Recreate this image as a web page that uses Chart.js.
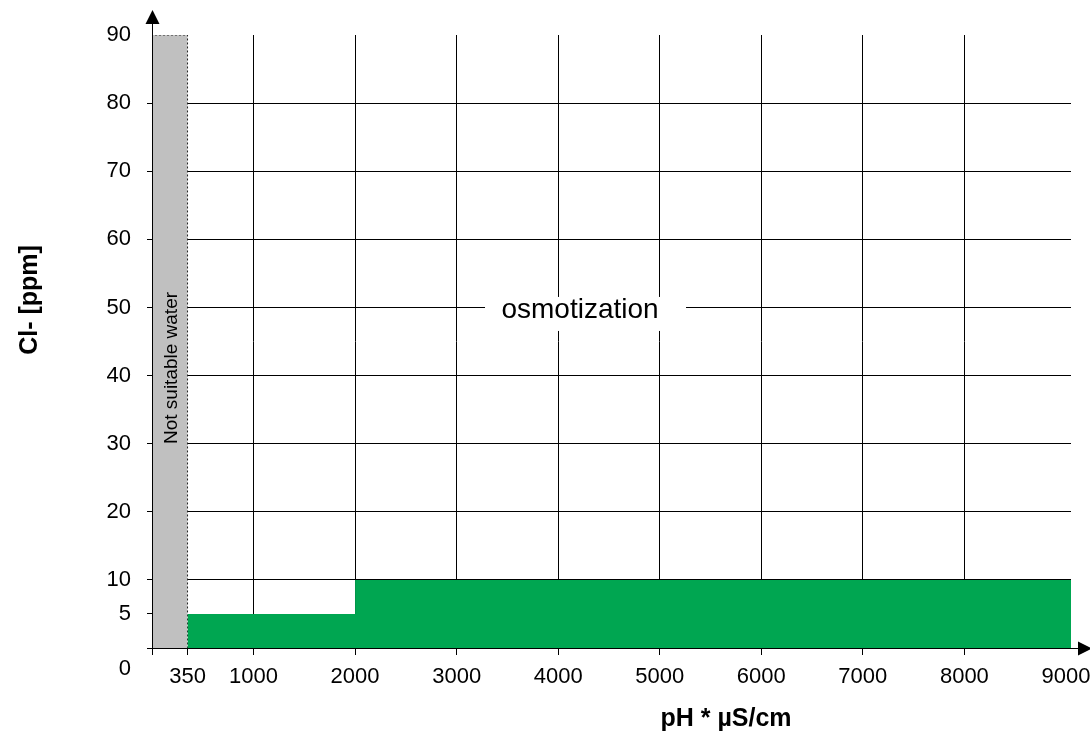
<!DOCTYPE html>
<html>
<head>
<meta charset="utf-8">
<script src="https://cdn.jsdelivr.net/npm/chart.js@4.4.1/dist/chart.umd.min.js"></script>
<style>
html,body{margin:0;padding:0;background:#ffffff;}
#wrap{width:1090px;height:731px;position:relative;}
canvas{display:block;}
</style>
</head>
<body>
<div id="wrap"><canvas id="c" width="1090" height="731"></canvas></div>
<script>
// ---- data ----
const xTickValues = [0, 350, 1000, 2000, 3000, 4000, 5000, 6000, 7000, 8000, 9000];
const xGridValues = [1000, 2000, 3000, 4000, 5000, 6000, 7000, 8000];
const yTickValues = [0, 5, 10, 20, 30, 40, 50, 60, 70, 80, 90];
const yGridValues = [10, 20, 30, 40, 50, 60, 70, 80];
const xMin = 0, xMax = 9050;
const yMin = 0, yMax = 90;

// "Not suitable water" zone (conductivity below 350)
const unsuitableX = [0, 0, 350, 350];
const unsuitableY = [0, 90, 90, 0];

// green zone: Cl- limit vs pH*µS/cm (step)
const greenX = [350, 2000, 9050];
const greenY = [5, 10, 10];

const unsuitableLabel = "Not suitable water";
const zoneLabel = "osmotization";
const zoneLabelX = 4215, zoneLabelY = 50;
const xTitle = "pH * µS/cm";
const yTitle = "Cl- [ppm]";

const FONT = "'Liberation Sans', Arial, Helvetica, sans-serif";
const CLEAR = 'rgba(0,0,0,0)';

const toPts = (xs, ys) => xs.map((x, i) => ({x: x, y: ys[i]}));

const deco = {
  id: 'deco',
  afterDatasetsDraw(chart) {
    const ctx = chart.ctx;
    const xs = chart.scales.x, ys = chart.scales.y;
    // osmotization label with white background
    const ax = xs.getPixelForValue(zoneLabelX);
    const ay = ys.getPixelForValue(zoneLabelY);
    ctx.save();
    ctx.fillStyle = '#ffffff';
    ctx.fillRect(ax - 95, ay - 10.5, 201, 34);
    ctx.fillStyle = '#000000';
    ctx.font = '28px ' + FONT;
    ctx.textAlign = 'center';
    ctx.textBaseline = 'alphabetic';
    ctx.fillText(zoneLabel, ax, ay + 11);
    ctx.restore();

    // Not suitable water (rotated)
    const gx = (xs.getPixelForValue(unsuitableX[0]) + xs.getPixelForValue(unsuitableX[2])) / 2;
    ctx.save();
    ctx.translate(gx + 7, 368);
    ctx.rotate(-Math.PI / 2);
    ctx.fillStyle = '#000000';
    ctx.font = '19px ' + FONT;
    ctx.textAlign = 'center';
    ctx.textBaseline = 'alphabetic';
    ctx.fillText(unsuitableLabel, 0, 0);
    ctx.restore();
  },
  afterDraw(chart) {
    const ctx = chart.ctx;
    const a = chart.chartArea;
    const ax = Math.round(a.left) + 0.5;
    const ay = Math.round(a.bottom) + 0.5;
    ctx.save();
    ctx.strokeStyle = '#000';
    ctx.lineWidth = 1;
    ctx.beginPath();
    ctx.moveTo(ax, a.top);
    ctx.lineTo(ax, 22);
    ctx.moveTo(a.right, ay);
    ctx.lineTo(1080, ay);
    ctx.stroke();
    ctx.fillStyle = '#000';
    ctx.beginPath();
    ctx.moveTo(ax, 10);
    ctx.lineTo(ax - 7, 24);
    ctx.lineTo(ax + 7, 24);
    ctx.closePath();
    ctx.fill();
    ctx.beginPath();
    ctx.moveTo(1092, ay);
    ctx.lineTo(1078, ay - 7);
    ctx.lineTo(1078, ay + 7);
    ctx.closePath();
    ctx.fill();

    // axis titles
    ctx.font = 'bold 25px ' + FONT;
    ctx.textAlign = 'center';
    ctx.textBaseline = 'middle';
    ctx.fillText(xTitle, 726, 719);
    ctx.translate(30, 300);
    ctx.rotate(-Math.PI / 2);
    ctx.font = 'bold 25px ' + FONT;
    ctx.fillText(yTitle, 0, 0);
    ctx.restore();
  }
};

new Chart(document.getElementById('c'), {
  type: 'line',
  data: {
    datasets: [
      {
        label: 'unsuitable',
        data: toPts(unsuitableX, unsuitableY),
        fill: 'origin',
        backgroundColor: '#c0c0c0',
        borderColor: '#222222',
        borderWidth: 1,
        borderDash: [2, 2],
        pointRadius: 0,
        tension: 0,
        order: 2
      },
      {
        label: 'green',
        data: toPts(greenX, greenY),
        stepped: 'before',
        fill: 'origin',
        backgroundColor: '#00a651',
        borderColor: CLEAR,
        borderWidth: 0,
        pointRadius: 0,
        order: 1
      }
    ]
  },
  options: {
    responsive: false,
    animation: false,
    events: [],
    layout: {padding: {left: 0, right: 19, top: 35, bottom: 0}},
    plugins: {legend: {display: false}, tooltip: {enabled: false}, title: {display: false}},
    scales: {
      x: {
        type: 'linear',
        position: 'bottom',
        min: xMin,
        max: xMax,
        afterBuildTicks: s => { s.ticks = xTickValues.map(v => ({value: v})); },
        afterFit: s => { s.height = 83; s.paddingLeft = 0; s.paddingRight = 0; },
        ticks: {
          autoSkip: false,
          maxRotation: 0,
          minRotation: 0,
          padding: 9,
          color: '#000',
          font: {family: FONT, size: 22},
          callback: v => (v === 0 ? '' : String(v))
        },
        grid: {
          color: c => (c.tick && xGridValues.includes(c.tick.value)) ? '#000' : CLEAR,
          tickColor: c => (c.tick && c.tick.value !== 9000) ? '#000' : CLEAR,
          tickLength: 7,
          lineWidth: 1
        },
        border: {display: true, color: '#000', width: 1, z: 1}
      },
      y: {
        type: 'linear',
        min: yMin,
        max: yMax,
        afterBuildTicks: s => { s.ticks = yTickValues.map(v => ({value: v})); },
        afterFit: s => { s.width = 152; s.paddingTop = 0; s.paddingBottom = 0; },
        ticks: {
          autoSkip: false,
          padding: 16,
          color: '#000',
          font: {family: FONT, size: 22, lineHeight: 1.9},
          callback: v => (v === 0 ? ['', '0'] : String(v))
        },
        grid: {
          color: c => (c.tick && yGridValues.includes(c.tick.value)) ? '#000' : CLEAR,
          tickColor: c => (c.tick && c.tick.value !== 90) ? '#000' : CLEAR,
          tickLength: 5,
          lineWidth: 1
        },
        border: {display: true, color: '#000', width: 1, z: 1}
      }
    }
  },
  plugins: [deco]
});
</script>
</body>
</html>
